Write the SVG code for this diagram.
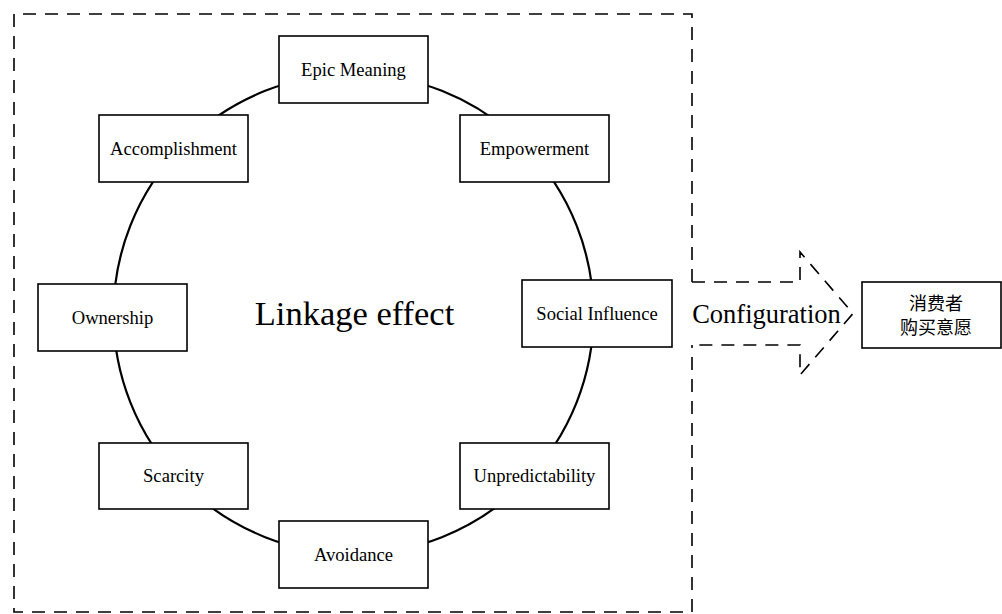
<svg xmlns="http://www.w3.org/2000/svg" width="1002" height="614" viewBox="0 0 1002 614">
<style>
.frame{fill:none;stroke:#000;stroke-width:1.6;stroke-dasharray:13 9}
.ring{fill:none;stroke:#000;stroke-width:2.2}
.box{fill:#fff;stroke:#000;stroke-width:1.6}
.lbl{font-family:"Liberation Serif","Times New Roman",serif;font-size:18.6px;fill:#000;text-anchor:middle}
.cjk{font-family:"Liberation Serif","Noto Sans CJK SC",serif;font-size:18px;fill:#000;text-anchor:middle}
.big{font-family:"Liberation Serif","Times New Roman",serif;fill:#000;text-anchor:middle}
</style>
<rect width="1002" height="614" fill="#fff"/>
<g id="frame">
<path class="frame" d="M692,282 L692,14 L14,14 L14,612 L692,612 L692,345"/>
</g>
<g id="connectors">
<circle class="ring" cx="353.5" cy="314" r="240"/>
<path class="frame" d="M692,282 L800,282 L800,252 L853,313.5 L800,375 L800,345 L692,345"/>
</g>
<g id="epic-meaning"><rect class="box" x="279" y="36" width="149" height="67"/><text class="lbl" x="353.5" y="76">Epic Meaning</text></g>
<g id="accomplishment"><rect class="box" x="99" y="115" width="149" height="67"/><text class="lbl" x="173.5" y="155">Accomplishment</text></g>
<g id="empowerment"><rect class="box" x="460" y="115" width="149" height="67"/><text class="lbl" x="534.5" y="155">Empowerment</text></g>
<g id="ownership"><rect class="box" x="38" y="284" width="149" height="67"/><text class="lbl" x="112.5" y="324">Ownership</text></g>
<g id="social-influence"><rect class="box" x="522" y="280" width="150" height="67"/><text class="lbl" x="597" y="320">Social Influence</text></g>
<g id="scarcity"><rect class="box" x="99" y="443" width="149" height="66"/><text class="lbl" x="173.5" y="482">Scarcity</text></g>
<g id="unpredictability"><rect class="box" x="460" y="443" width="149" height="66"/><text class="lbl" x="534.5" y="482">Unpredictability</text></g>
<g id="avoidance"><rect class="box" x="279" y="521" width="149" height="67"/><text class="lbl" x="353.5" y="561">Avoidance</text></g>
<g id="linkage-effect"><text class="big" x="354.5" y="325" font-size="34.5">Linkage effect</text></g>
<g id="configuration"><text class="big" x="766.5" y="323" font-size="26.5">Configuration</text></g>
<g id="purchase-intention"><rect class="box" x="862" y="282" width="139" height="66"/><text class="cjk" x="936" y="310">消费者</text><text class="cjk" x="936" y="334">购买意愿</text></g>
</svg>
